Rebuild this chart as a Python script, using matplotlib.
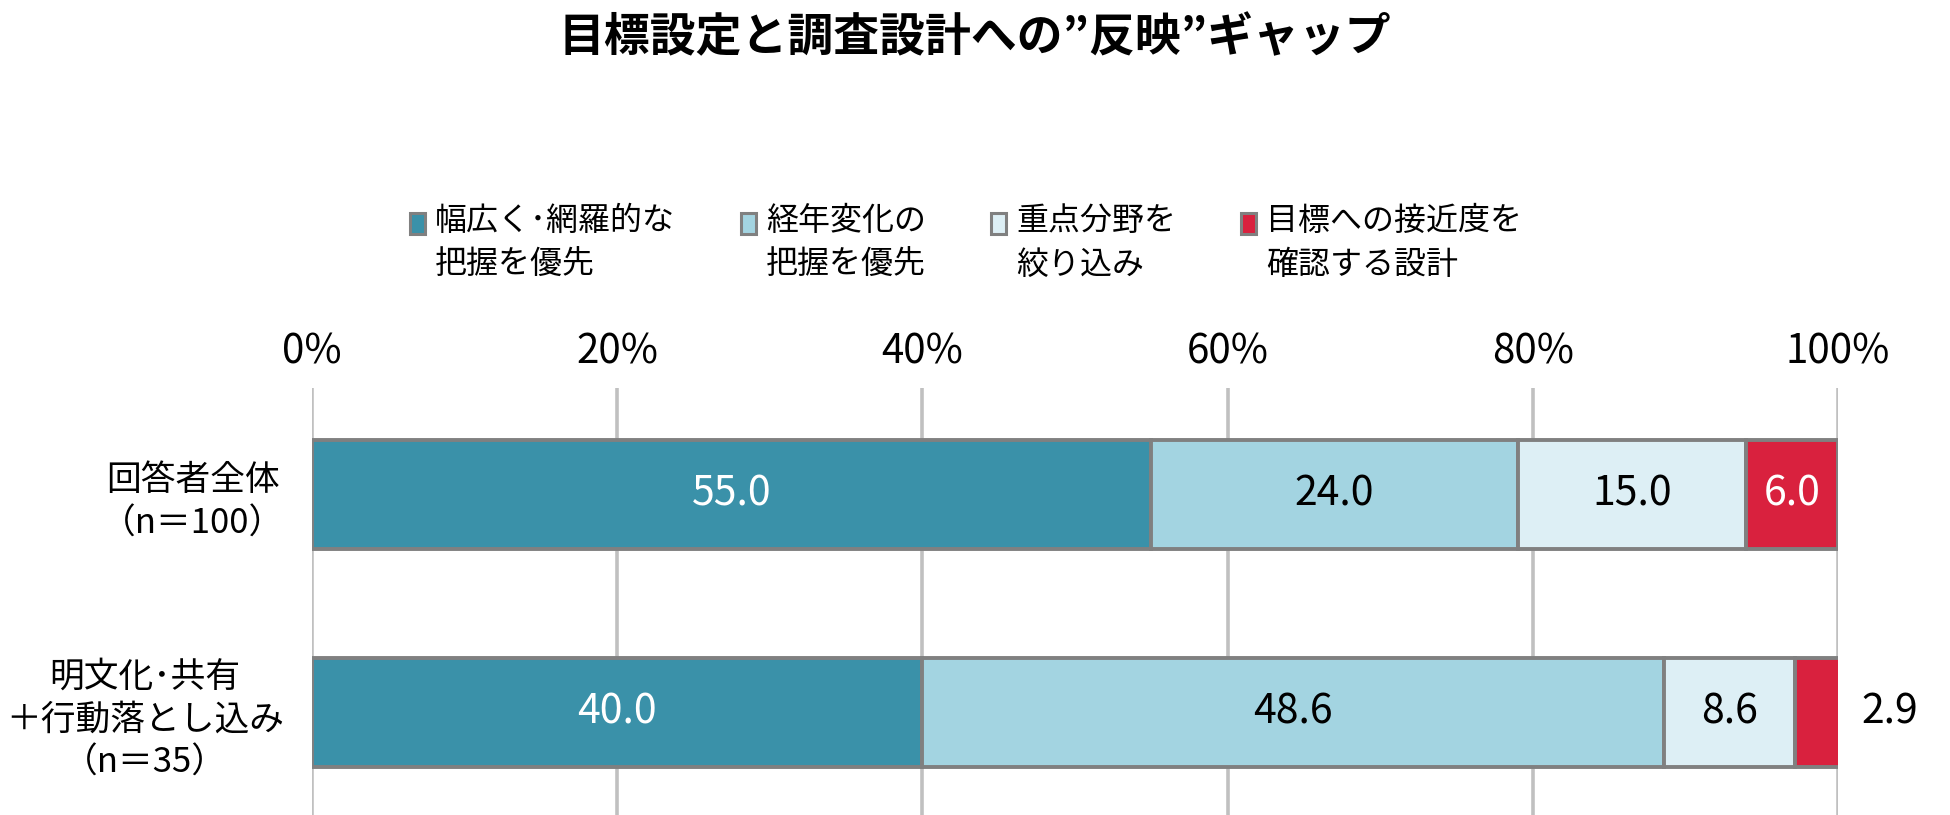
import matplotlib
matplotlib.use("Agg")
import matplotlib.pyplot as plt
from matplotlib.patches import Rectangle

plt.rcParams['font.family'] = ['Noto Sans CJK JP', 'DejaVu Sans']

title = "目標設定と調査設計への”反映”ギャップ"
categories = ["回答者全体\n（n＝100）", "明文化･共有\n＋行動落とし込み\n（n＝35）"]
series_names = ["幅広く･網羅的な\n把握を優先", "経年変化の\n把握を優先", "重点分野を\n絞り込み", "目標への接近度を\n確認する設計"]
values = [
    [55.0, 40.0],
    [24.0, 48.6],
    [15.0, 8.6],
    [6.0, 2.9],
]
colors = ["#3A91A9", "#A3D4E1", "#DDEFF5", "#D9213E"]
label_colors = ["white", "black", "black", "white"]
xticks = [0, 20, 40, 60, 80, 100]
xtick_labels = ["0%", "20%", "40%", "60%", "80%", "100%"]

W, H = 1950, 815
fig = plt.figure(figsize=(W / 100, H / 100), dpi=100)
ax = fig.add_axes([312 / W, 0, (1838 - 312) / W, 1 - 388 / H])

ypos = [0, 1]
left = [0.0, 0.0]
for i, (name, vals) in enumerate(zip(series_names, values)):
    bars = ax.barh(ypos, vals, left=left, height=0.5, color=colors[i],
                   edgecolor="#808080", linewidth=2.8, zorder=3)
    for j, (b, v) in enumerate(zip(bars, vals)):
        cx = left[j] + v / 2
        if v < 4:
            ax.text(103.4, ypos[j], f"{v:.1f}", ha="center", va="center",
                    fontsize=29.5, color="black", clip_on=False)
        else:
            ax.text(cx, ypos[j], f"{v:.1f}", ha="center", va="center",
                    fontsize=29.5, color=label_colors[i], zorder=4)
    left = [l + v for l, v in zip(left, vals)]

ax.set_xlim(0, 100)
ax.set_ylim(1.47, -0.486)
ax.set_xticks(xticks)
ax.set_xticklabels(xtick_labels, fontsize=29)
ax.xaxis.tick_top()
ax.tick_params(axis="x", length=0, pad=11)
ax.set_yticks(ypos)
ax.set_yticklabels(categories, fontsize=25, multialignment="center", linespacing=1.3)
ax.tick_params(axis="y", length=0, pad=20)
ax.grid(axis="x", color="#C0C0C0", linewidth=2.6, zorder=0)
for s in ax.spines.values():
    s.set_visible(False)

fig.text(0.5, 1 - 38 / H, title, ha="center", va="center", fontsize=33, fontweight="bold")

# legend
marker_x = [410, 741, 991, 1241]
text_x = [435, 766, 1016, 1266]
for i, name in enumerate(series_names):
    fig.patches.append(Rectangle((marker_x[i] / W, 1 - 234 / H), 15 / W, 21 / H,
                                 transform=fig.transFigure, facecolor=colors[i],
                                 edgecolor="#808080", linewidth=2.2))
    fig.text(text_x[i] / W, 1 - 205 / H, name, ha="left", va="top", fontsize=23,
             linespacing=1.49)

fig.savefig("out.png", dpi=100)
